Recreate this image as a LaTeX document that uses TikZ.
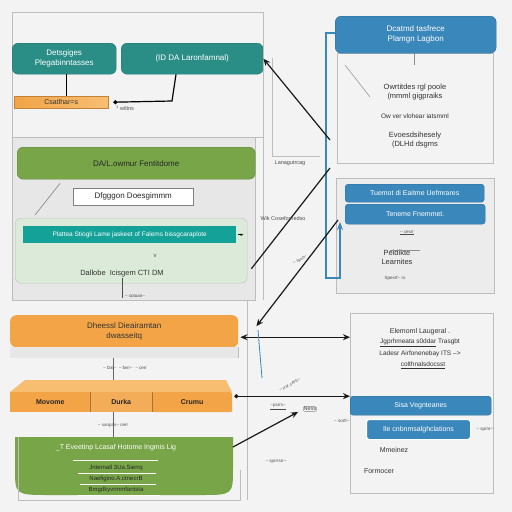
\documentclass[tikz,border=0pt]{standalone}
\usepackage{fontspec}
\setmainfont{Liberation Sans}
\usetikzlibrary{arrows.meta,calc}
\definecolor{bg}{HTML}{F3F3F3}
\definecolor{tealc}{HTML}{2A8E87}
\definecolor{tealb}{HTML}{14A198}
\definecolor{greenc}{HTML}{77A548}
\definecolor{lgreen}{HTML}{DCEBD9}
\definecolor{orangec}{HTML}{F2A447}
\definecolor{orangel}{HTML}{F7BE72}
\definecolor{bluec}{HTML}{3A87BB}
\definecolor{panelc}{HTML}{E7E7E7}
\definecolor{linec}{HTML}{BDBDBD}
\begin{document}
\begin{tikzpicture}[x=1pt,y=-1pt,
  box/.style={anchor=north west,inner sep=1pt,align=center,font=\fontsize{8}{10}\selectfont},
  tealbox/.style={box,rounded corners=6pt,fill=tealc,draw=tealc!80!black,text=white},
  bluebox/.style={box,rounded corners=3pt,fill=bluec,draw=bluec!80!black,text=white},
  panelbox/.style={box,draw=linec,line width=0.8pt},
  txt/.style={font=\fontsize{7.5}{9}\selectfont,text=black!80,align=center,inner sep=0.5pt},
  tiny/.style={font=\fontsize{4.5}{5}\selectfont,text=black!70,inner sep=0.5pt},
  conn/.style={line width=1.2pt,black!90,-{Stealth[length=7pt,width=6pt]}},
  thin/.style={line width=0.5pt,black!45}]
\fill[bg] (0,0) rectangle (512,512);
\useasboundingbox (0,0) rectangle (512,512);

% ---------- left top panel ----------
\node[panelbox,fill=bg,minimum width=251,minimum height=125] (p1) at (12,12) {};
\node[tealbox,minimum width=104,minimum height=31] (t1) at (12,43) {Detsgiges\\Plegabinntasses};
\node[tealbox,minimum width=142,minimum height=31] (t2) at (121,43) {(ID DA Laronfamnal)};
\node[box,left color=orangec,right color=orangel,draw=orangec!80!black,minimum width=94,minimum height=12,font=\fontsize{7}{8}\selectfont,text=black!80] (o1) at (14,96) {Csatlhar=s};
\draw[line width=1pt] (t1.south) ++(2,0) coordinate (t1b) -- (t1b |- o1.north);
\coordinate (k1) at (172,101);
\draw[line width=1.2pt,{Circle[length=4pt]}-] (o1.east) ++(5,0) coordinate (o1e) -- (k1) -- (t2.south -| 176,0);
\node[tiny,font=\fontsize{5.5}{6}\selectfont] (l1) at (125,108) {\textsuperscript{1} wiltns};

% ---------- left middle panel ----------
\node[panelbox,fill=panelc,minimum width=243,minimum height=163] (p2) at (12,137) {};
\node[box,rounded corners=6pt,fill=greenc,draw=greenc!80!black,minimum width=238,minimum height=32,text=black!85] (g1) at (17,147) {DA/L.owmur Fentitdome};
\node[box,fill=white,draw=black!50,minimum width=120,minimum height=17,text=black!85] (w1) at (73,188) {Dfgggon Doesgimmm};
\node[box,rounded corners=6pt,fill=lgreen,draw=linec,minimum width=232,minimum height=65] (lg) at (15,218) {};
\node[box,fill=tealb,minimum width=213,minimum height=17,text=white,font=\fontsize{6.5}{8}\selectfont] (tb) at (23,226) {Plattea Stiogli Lame jaskeet of Falems bissgcaraplote};
\draw[line width=0.6pt,-{Stealth[length=3pt]}] (tb.east) ++(2,0) -- ++(5,0);
\node[txt] (d1) at (122,274) {Dallobe\ \ Icisgem CTI DM};
\node[tiny,font=\fontsize{6}{6}\selectfont] (v1) at (155,256) {v};
\draw[thin,line width=0.7pt] (g1.south west) ++(43,4) coordinate (ga) -- ($(lg.north west)+(20,-3)$);
\draw[line width=0.6pt,black!70] (d1.south) ++(0,0) -- ++(0,20);
\node[tiny] (s1) at (135,296) {\textasciitilde\ sotoan\textasciitilde};

% ---------- left orange ----------
\node[box,rounded corners=6pt,fill=orangec,minimum width=228,minimum height=32,text=black!80] (oh) at (10,315) {Dheessl Dieairamtan\\dwasseitq};
\fill[panelc] (10,347) rectangle (238,358);
\draw[linec] (238,347) -- (238,358);
\node[tiny] (s2) at (125,368) {\textasciitilde\ Dal\textasciitilde\ \ \textasciitilde\ fwrr\textasciitilde\ \ \textasciitilde\ cerr};
\draw[line width=0.5pt,black!60] (113,358) -- (113,380);

% 3D orange bar
\fill[orangel] (10,392) -- (25,380) -- (226,380) -- (232,392) -- cycle;
\node[box,fill=orangec,minimum width=80,minimum height=20,text=black!85,font=\fontsize{7}{8}\selectfont\bfseries] (m1) at (10,392) {Movome};
\node[box,fill=orangec!90!white,minimum width=62,minimum height=20,text=black!85,font=\fontsize{7}{8}\selectfont\bfseries] (m2) at (90,392) {Durka};
\node[box,rounded corners=2pt,fill=orangec,minimum width=80,minimum height=20,text=black!85,font=\fontsize{7}{8}\selectfont\bfseries] (m3) at (152,392) {Crumu};
\draw[orangec!70!black,line width=0.4pt] (90,392) -- (90,412) (152,392) -- (152,412);

% green bottom shape
\fill[greenc] (15,437) -- (233,437) -- (233,468) .. controls (233,495) .. (200,495) -- (50,495) .. controls (15,495) .. (15,468) -- cycle;
\draw[linec] (18,437) -- (18,500) -- (240,500) -- (240,470);
\node[txt,text=white,font=\fontsize{7}{8}\selectfont] (gb) at (116,448) {\_T Eveetinp Lcasaf Hotome Ingmis Lig};
\draw[white,line width=0.8pt] (73,460) -- (158,460);
\node[txt,text=black!85,font=\fontsize{6}{7}\selectfont] (gb1) at (116,468) {Jnternatl 3Ua.Sierrq};
\node[txt,text=black!85,font=\fontsize{6}{7}\selectfont] (gb2) at (116,479) {Naefigino.A.ctnecrB};
\node[txt,text=black!85,font=\fontsize{6}{7}\selectfont] (gb3) at (116,490) {Bmgdkyvrmmfantsta};
\draw[white,line width=0.6pt] (78,473) -- (156,473) (80,484) -- (156,484) (78,495) -- (160,495);
\node[tiny] (s3) at (113,426) {\textasciitilde\ sanpas\textasciitilde\ cerr};
\draw[line width=0.5pt,black!60] (113,412) -- (113,437);

% vertical guides
\draw[linec,line width=0.7pt] (263,12) -- (263,300);
\draw[linec,line width=0.7pt] (247,300) -- (247,500);
\draw[linec,line width=0.6pt] (272,58) -- (272,156) -- (320,156);

% ---------- right top ----------
\node[panelbox,fill=bg,minimum width=156,minimum height=110] (rp1) at (337,53) {};
\node[bluebox,rounded corners=6pt,minimum width=161,minimum height=37] (b1) at (335,16) {Dcatmd tasfrece\\Plamgn Lagbon};
\node[txt] (r1) at (415,92) {Owrtitdes rgl poole\\(mmml gigpraiks};
\node[txt,font=\fontsize{6.5}{8}\selectfont] (r2) at (415,116) {Ow ver vlohear iatsmml};
\node[txt] (r3) at (415,140) {Evoesdsihesely\\(DLHd dsgms};
\draw[thin] (b1.south) ++(-1,0) -- ++(0,12);
\draw[thin] (345,65) -- (370,97);

% ---------- right middle ----------
\node[panelbox,fill=panelc!60!bg,minimum width=158,minimum height=115] (rp2) at (336,178) {};
\node[bluebox,minimum width=139,minimum height=18,font=\fontsize{7}{8}\selectfont] (b2) at (345,184) {Tuemot di Eaitme Uefmrares};
\node[bluebox,minimum width=140,minimum height=20,font=\fontsize{7}{8}\selectfont] (b3) at (345,204) {Teneme Fnemmet.};
\node[txt] (r4) at (397,257) {Peldikte\\Learnites};
\node[tiny] (r5) at (407,233) {\underline{\textasciitilde\ cesrr}};
\node[tiny] (r6) at (395,278) {Spesrf\textasciitilde\ rs};
\draw[thin] (390,250) -- (420,250);

% ---------- right bottom ----------
\node[panelbox,fill=bg,minimum width=143,minimum height=180] (rp3) at (350,313) {};
\node[txt,font=\fontsize{7}{8.5}\selectfont] (r7) at (420,332) {Elemoml Laugeral .};
\node[txt,font=\fontsize{6.5}{8}\selectfont] (r8) at (420,343) {\underline{Jgprhmeata s0ddar} Trasgbt};
\node[txt,font=\fontsize{6.5}{8}\selectfont] (r9) at (420,354) {Ladesr Airfonenebay ITS -->};
\node[txt,font=\fontsize{6.5}{8}\selectfont] (r10) at (423,365) {\underline{colthnalsdocsst}};
\node[bluebox,minimum width=141,minimum height=19,font=\fontsize{7}{8}\selectfont] (b4) at (350,396) {Sisa Vegnteanes};
\node[bluebox,minimum width=104,minimum height=20,font=\fontsize{7}{8}\selectfont,draw=white,line width=1pt] (b5) at (366,419) {Ile cnbnmsalghclations};
\node[txt,font=\fontsize{7}{8}\selectfont] (r11) at (394,450) {Mmeinez};
\node[txt,font=\fontsize{7}{8}\selectfont] (r12) at (379,471) {Formocer};
\node[tiny] (r13) at (485,430) {\textasciitilde\ sprrrr\textasciitilde};

% ---------- connectors ----------
\coordinate (bl1) at (326,33);
\coordinate (bl2) at (326,278);
\coordinate (bl3) at (340,278);
\draw[bluec,line width=1.6pt,-{Stealth[length=8pt]}] (b1.west |- bl1) -- (bl1) -- (bl2) -- (bl3) -- (340,222);
\coordinate (a1) at (330,140);
\draw[conn] (a1) -- (t2.east);
\coordinate (a2) at (330,168);
\draw[line width=1.2pt,black!90] (lg.east) ++(4,18) coordinate (lge) -- (a2);
\coordinate (a3) at (338,220);
\draw[conn] (a3) -- ($(oh.east)+(18,-5)$) coordinate (a3e);
\draw[line width=1.2pt,black!90,{Stealth[length=7pt,width=6pt]}-{Stealth[length=7pt,width=6pt]}] (oh.east) ++(2,6) coordinate (ohe) -- (rp3.west |- ohe);
\draw[line width=1.2pt,black!90,{Circle[length=4pt]}-{Stealth[length=7pt,width=6pt]}] (m3.east) ++(2,-6) coordinate (m3e) -- (b4.west |- m3e);
\coordinate (a4) at (298,412);
\draw[conn] (233,447) -- (a4);
\draw[bluec,line width=0.8pt] (258,330) -- (262,378);

% scribble labels
\node[tiny,font=\fontsize{5.5}{6}\selectfont] (n1) at (290,163) {Lanagutrcag};
\node[tiny,font=\fontsize{5.5}{6}\selectfont] (n2) at (283,219) {Wik Cosefornedso};
\node[tiny,rotate=30] (n3) at (300,260) {\textasciitilde\ rsno\textasciitilde};
\node[tiny,font=\fontsize{5.5}{6}\selectfont,draw=black!50,rounded corners=2pt] (n4) at (310,409) {Ness};
\node[tiny] (n5) at (278,407) {\underline{\textasciitilde psrrs\textasciitilde}};
\node[tiny,rotate=30] (n6) at (290,385) {\textasciitilde\ rrsr cerrr\textasciitilde};
\node[tiny] (n8) at (276,462) {\textasciitilde\ sprrrsrr\textasciitilde};
\node[tiny] (n9) at (342,421) {\textasciitilde\ sorfr\textasciitilde};
\end{tikzpicture}
\end{document}
